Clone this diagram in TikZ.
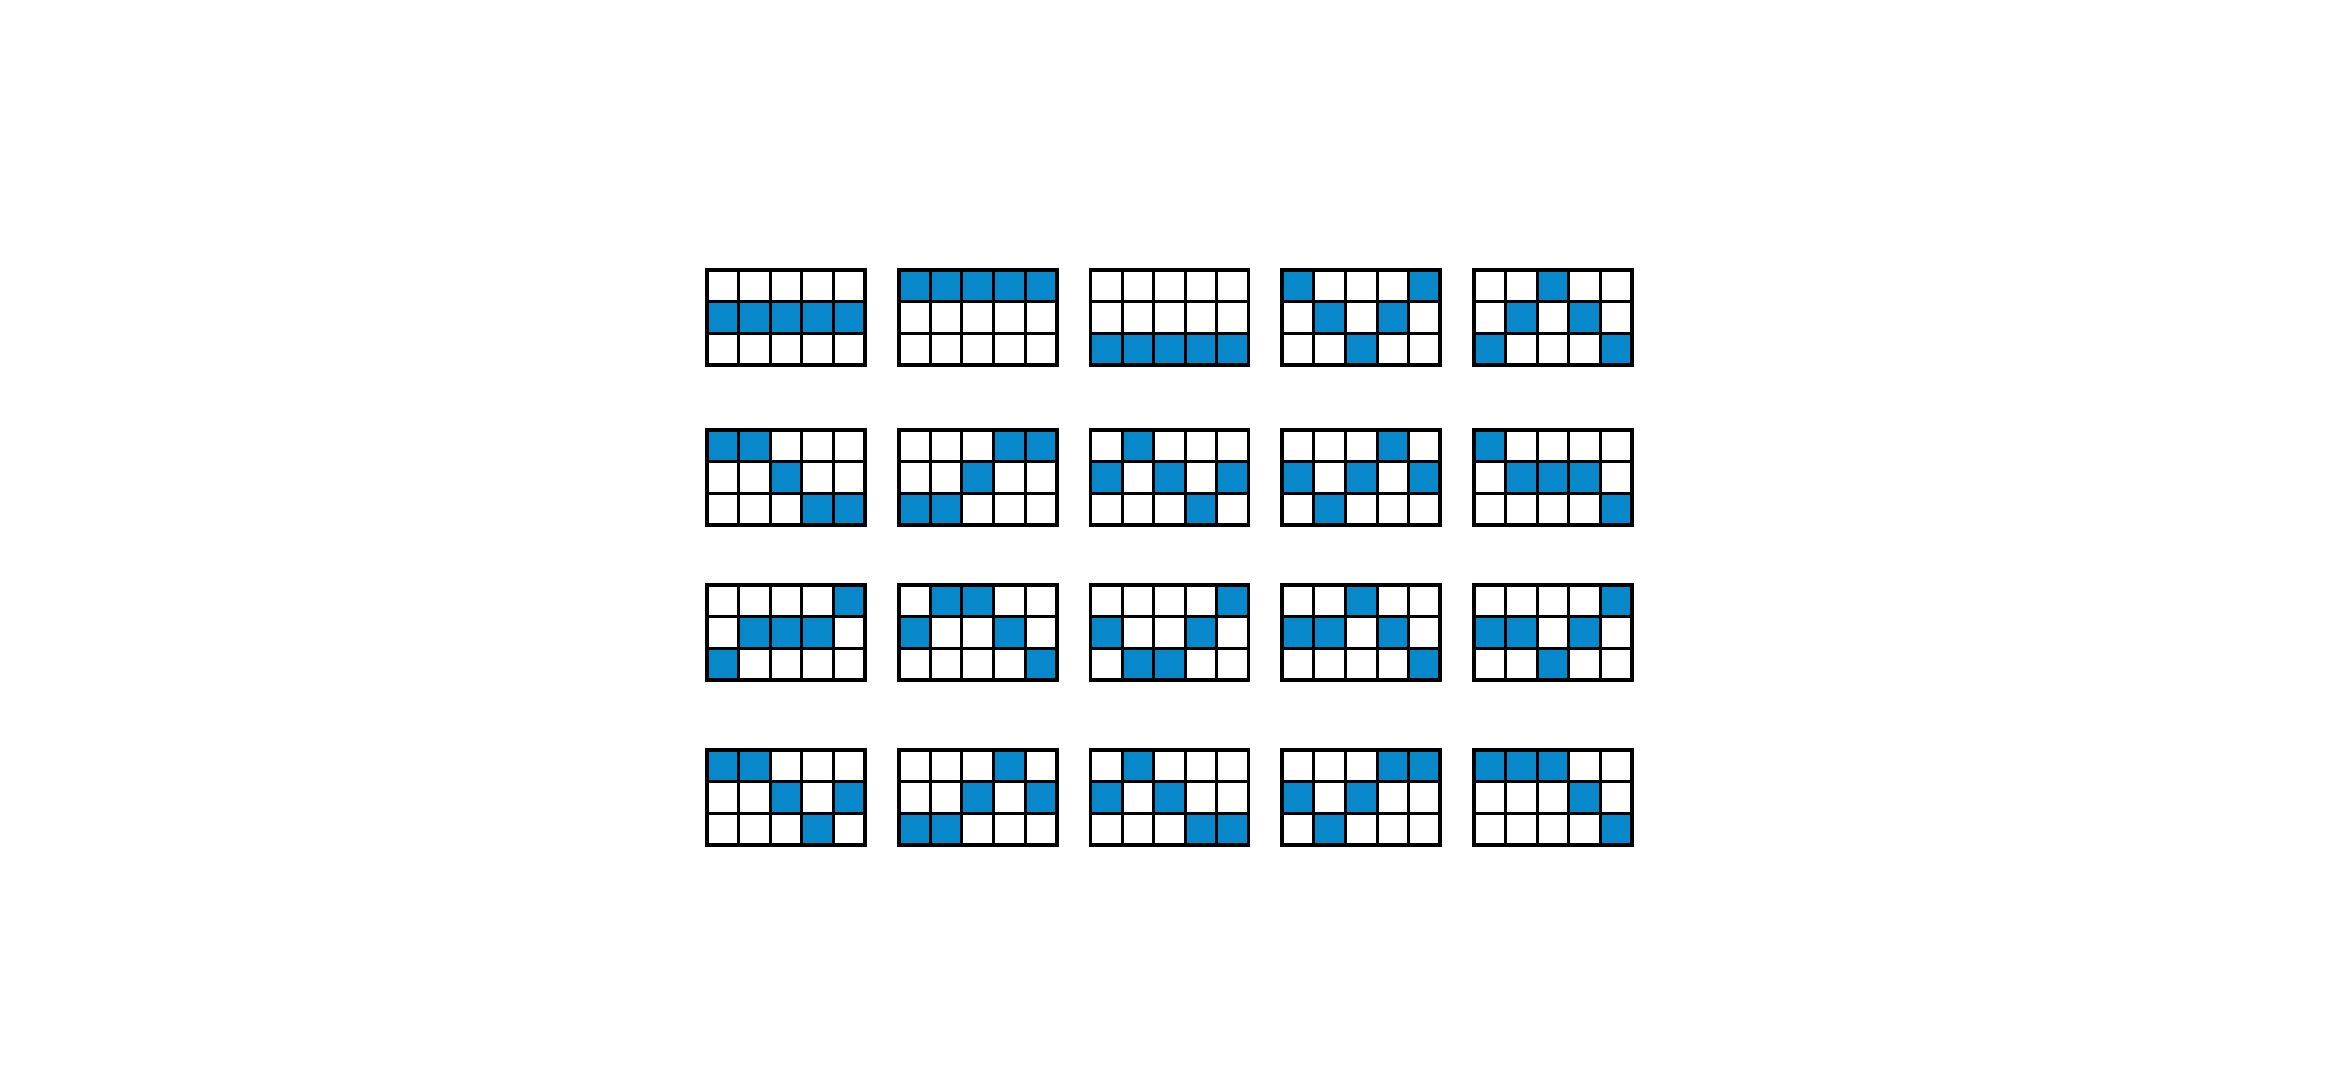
\documentclass[tikz,border=0pt]{standalone}
\usepackage{tikz}

\definecolor{cellblue}{HTML}{0788CA}

\tikzset{
  cell/.style={fill=cellblue},
  gridline/.style={line width=0.85pt, line cap=rect},
  gridframe/.style={line width=1.05pt, line join=miter},
}

\begin{document}
\begin{tikzpicture}[x=0.1mm, y=-0.1mm]
  \useasboundingbox (0,0) rectangle (2340,1080);
  % col / top edge / filled cells (row/col)
  \foreach \gc/\gy/\cells in {
    0/270/{2/1,2/2,2/3,2/4,2/5},
    1/270/{1/1,1/2,1/3,1/4,1/5},
    2/270/{3/1,3/2,3/3,3/4,3/5},
    3/270/{1/1,1/5,2/2,2/4,3/3},
    4/270/{1/3,2/2,2/4,3/1,3/5},
    0/430/{1/1,1/2,2/3,3/4,3/5},
    1/430/{1/4,1/5,2/3,3/1,3/2},
    2/430/{1/2,2/1,2/3,2/5,3/4},
    3/430/{1/4,2/1,2/3,2/5,3/2},
    4/430/{1/1,2/2,2/3,2/4,3/5},
    0/585/{1/5,2/2,2/3,2/4,3/1},
    1/585/{1/2,1/3,2/1,2/4,3/5},
    2/585/{1/5,2/1,2/4,3/2,3/3},
    3/585/{1/3,2/1,2/2,2/4,3/5},
    4/585/{1/5,2/1,2/2,2/4,3/3},
    0/750/{1/1,1/2,2/3,2/5,3/4},
    1/750/{1/4,2/3,2/5,3/1,3/2},
    2/750/{1/2,2/1,2/3,3/4,3/5},
    3/750/{1/4,1/5,2/1,2/3,3/2},
    4/750/{1/1,1/2,1/3,2/4,3/5}}{
    \pgfmathsetmacro\gx{707+191.75*\gc}
    \foreach \rw/\cl in \cells
      \fill[cell] (\gx+31.6*\cl-31.6,\gy+31.7*\rw-31.7) rectangle ++(31.6,31.7);
    \foreach \k in {1,...,4}
      \draw[gridline] (\gx+31.6*\k,\gy) -- ++(0,95);
    \foreach \k in {1,2}
      \draw[gridline] (\gx,\gy+31.7*\k) -- ++(158,0);
    \draw[gridframe] (\gx,\gy) rectangle ++(158,95);
  }
\end{tikzpicture}
\end{document}
